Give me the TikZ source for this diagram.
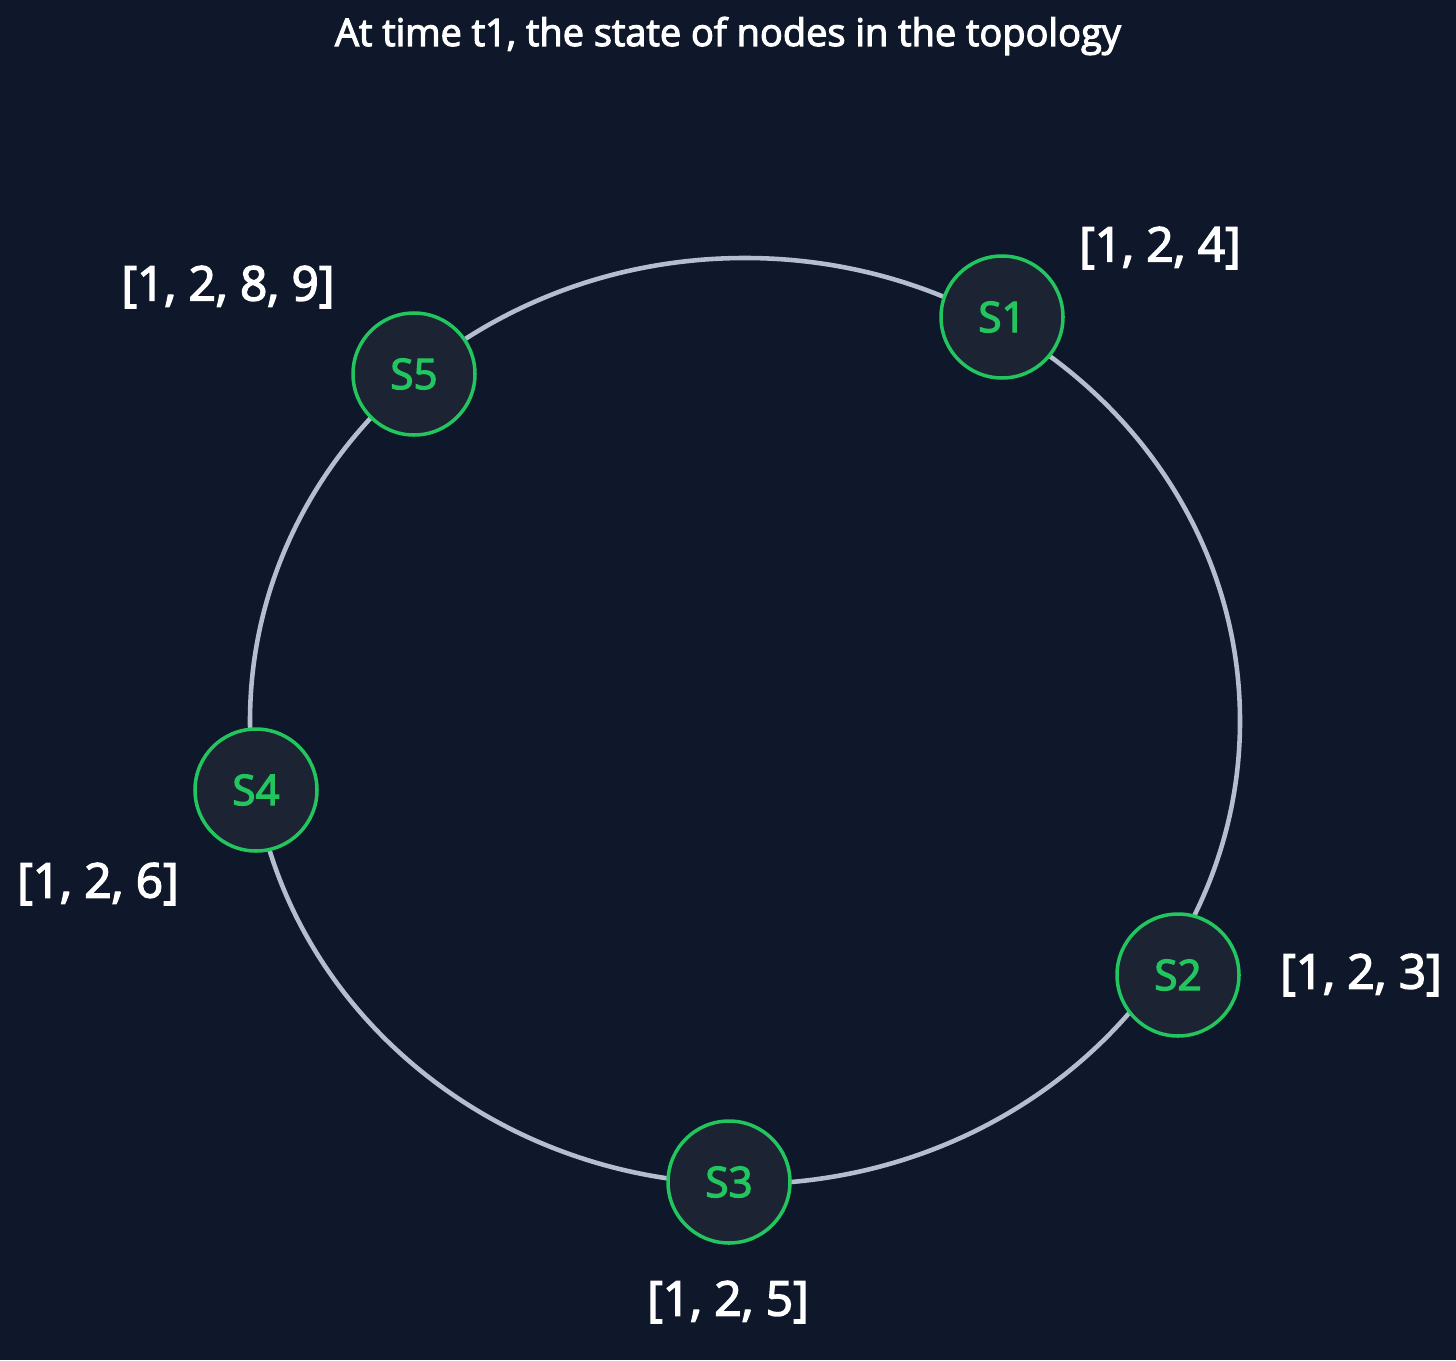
\documentclass[tikz,border=0pt]{standalone}
\usepackage{fontspec}
\setmainfont{Open Sans}[BoldFont={Open Sans}, BoldFeatures={FakeBold=3}]
\definecolor{bg}{HTML}{0F172A}
\definecolor{nodefill}{HTML}{1C2434}
\definecolor{ngreen}{HTML}{22C55E}
\definecolor{ring}{HTML}{B4BECE}
\begin{document}
\begin{tikzpicture}[x=0.05cm,y=-0.05cm,
  srv/.style={circle,draw=ngreen,line width=5pt,fill=nodefill,minimum size=6.1cm,inner sep=0pt,
    text=ngreen,font=\fontsize{60}{68}\selectfont\bfseries},
  lab/.style={text=white,font=\fontsize{68}{76}\selectfont\bfseries,inner sep=0pt},
  ttl/.style={text=white,font=\fontsize{54}{62}\selectfont\bfseries,inner sep=0pt}]
\fill[bg] (0,0) rectangle (1456,1360);
\useasboundingbox (0,0) rectangle (1456,1360);
\node[ttl] (title) at (728,36) {At time t1, the state of nodes in the topology};
\draw[ring,line width=6.5pt] (745,721) ellipse [x radius=495, y radius=463];
\node[srv] (s1) at (1002,317) {S1};
\node[srv] (s2) at (1178,975) {S2};
\node[srv] (s3) at (729,1182) {S3};
\node[srv] (s4) at (256,790) {S4};
\node[srv] (s5) at (414,374) {S5};
\node[lab] (l1) at (1160,248) {[1, 2, 4]};
\node[lab] (l2) at (1361,975) {[1, 2, 3]};
\node[lab] (l3) at (728,1302) {[1, 2, 5]};
\node[lab] (l4) at (98,884) {[1, 2, 6]};
\node[lab] (l5) at (228,287) {[1, 2, 8, 9]};
\end{tikzpicture}
\end{document}
